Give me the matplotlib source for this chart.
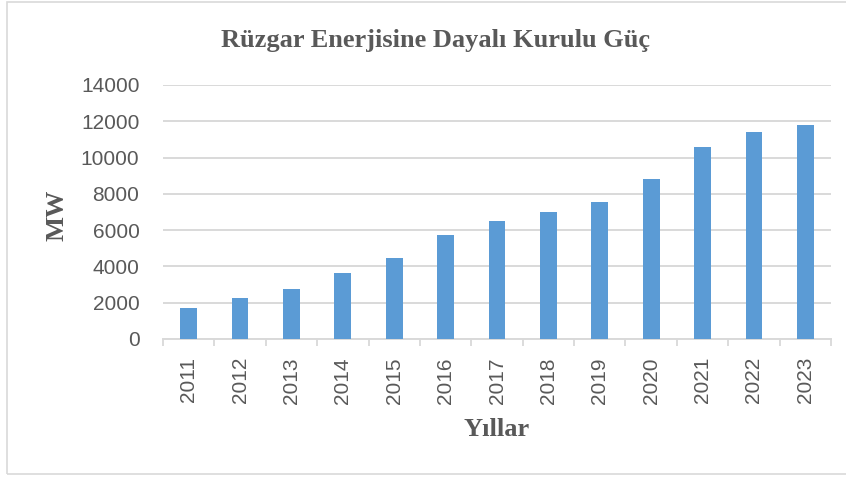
import matplotlib
matplotlib.use("Agg")
import matplotlib.pyplot as plt
from matplotlib.patches import Rectangle
import numpy as np

years = ["2011", "2012", "2013", "2014", "2015", "2016", "2017",
         "2018", "2019", "2020", "2021", "2022", "2023"]
mw = [1710, 2245, 2740, 3625, 4485, 5735, 6490,
      6985, 7570, 8820, 10585, 11395, 11800]
yticks = [0, 2000, 4000, 6000, 8000, 10000, 12000, 14000]

title = "Rüzgar Enerjisine Dayalı Kurulu Güç"
xlabel = "Yıllar"
ylabel = "MW"

gray_txt = "#595959"
grid_c = "#D9D9D9"
bar_c = "#5B9BD5"

fig = plt.figure(figsize=(8.46, 4.79), dpi=100)
fig.patch.set_facecolor("white")
ax = fig.add_axes([163/846, 1-339/479, (831-163)/846, (339-85)/479])

x = np.arange(len(years))
ax.bar(x, mw, width=0.325, color=bar_c, zorder=3)

ax.set_xlim(-0.5, len(years)-0.5)
ax.set_ylim(0, 14000)
ax.set_yticks(yticks)
ax.set_yticklabels([str(v) for v in yticks], fontfamily="Liberation Sans",
                   fontsize=15, color=gray_txt)
ax.tick_params(axis="y", length=0, pad=17)
ax.yaxis.grid(True, color=grid_c, linewidth=1.4, zorder=0)
ax.set_axisbelow(True)

ax.set_xticks(x)
ax.set_xticklabels(years, rotation=90, fontfamily="Liberation Sans",
                   fontsize=15, color=gray_txt)
ax.tick_params(axis="x", which="major", length=0, pad=13)
ax.set_xticks(np.arange(-0.5, len(years), 1.0), minor=True)
ax.tick_params(axis="x", which="minor", length=5, width=1.3, color=grid_c)

for s in ["top", "right", "left"]:
    ax.spines[s].set_visible(False)
ax.spines["bottom"].set_color(grid_c)
ax.spines["bottom"].set_linewidth(1.4)

fig.text(435/846, 1 - 40/479, title,
         ha="center", va="center", fontfamily="Liberation Serif",
         fontweight="bold", fontsize=19, color=gray_txt)
fig.text(497/846, 1 - 430/479, xlabel, ha="center", va="center",
         fontfamily="Liberation Serif", fontweight="bold", fontsize=19,
         color=gray_txt)
fig.text(57/846, 1 - 215/479, ylabel, ha="center", va="center", rotation=90,
         fontfamily="Liberation Serif", fontweight="bold", fontsize=19,
         color=gray_txt)

fig.patches.append(Rectangle((7/846, 1 - 474/479), 1.0, (474 - 1.5)/479,
                             transform=fig.transFigure, fill=False,
                             edgecolor=grid_c, linewidth=1.2))

fig.savefig("out.png", dpi=100)
